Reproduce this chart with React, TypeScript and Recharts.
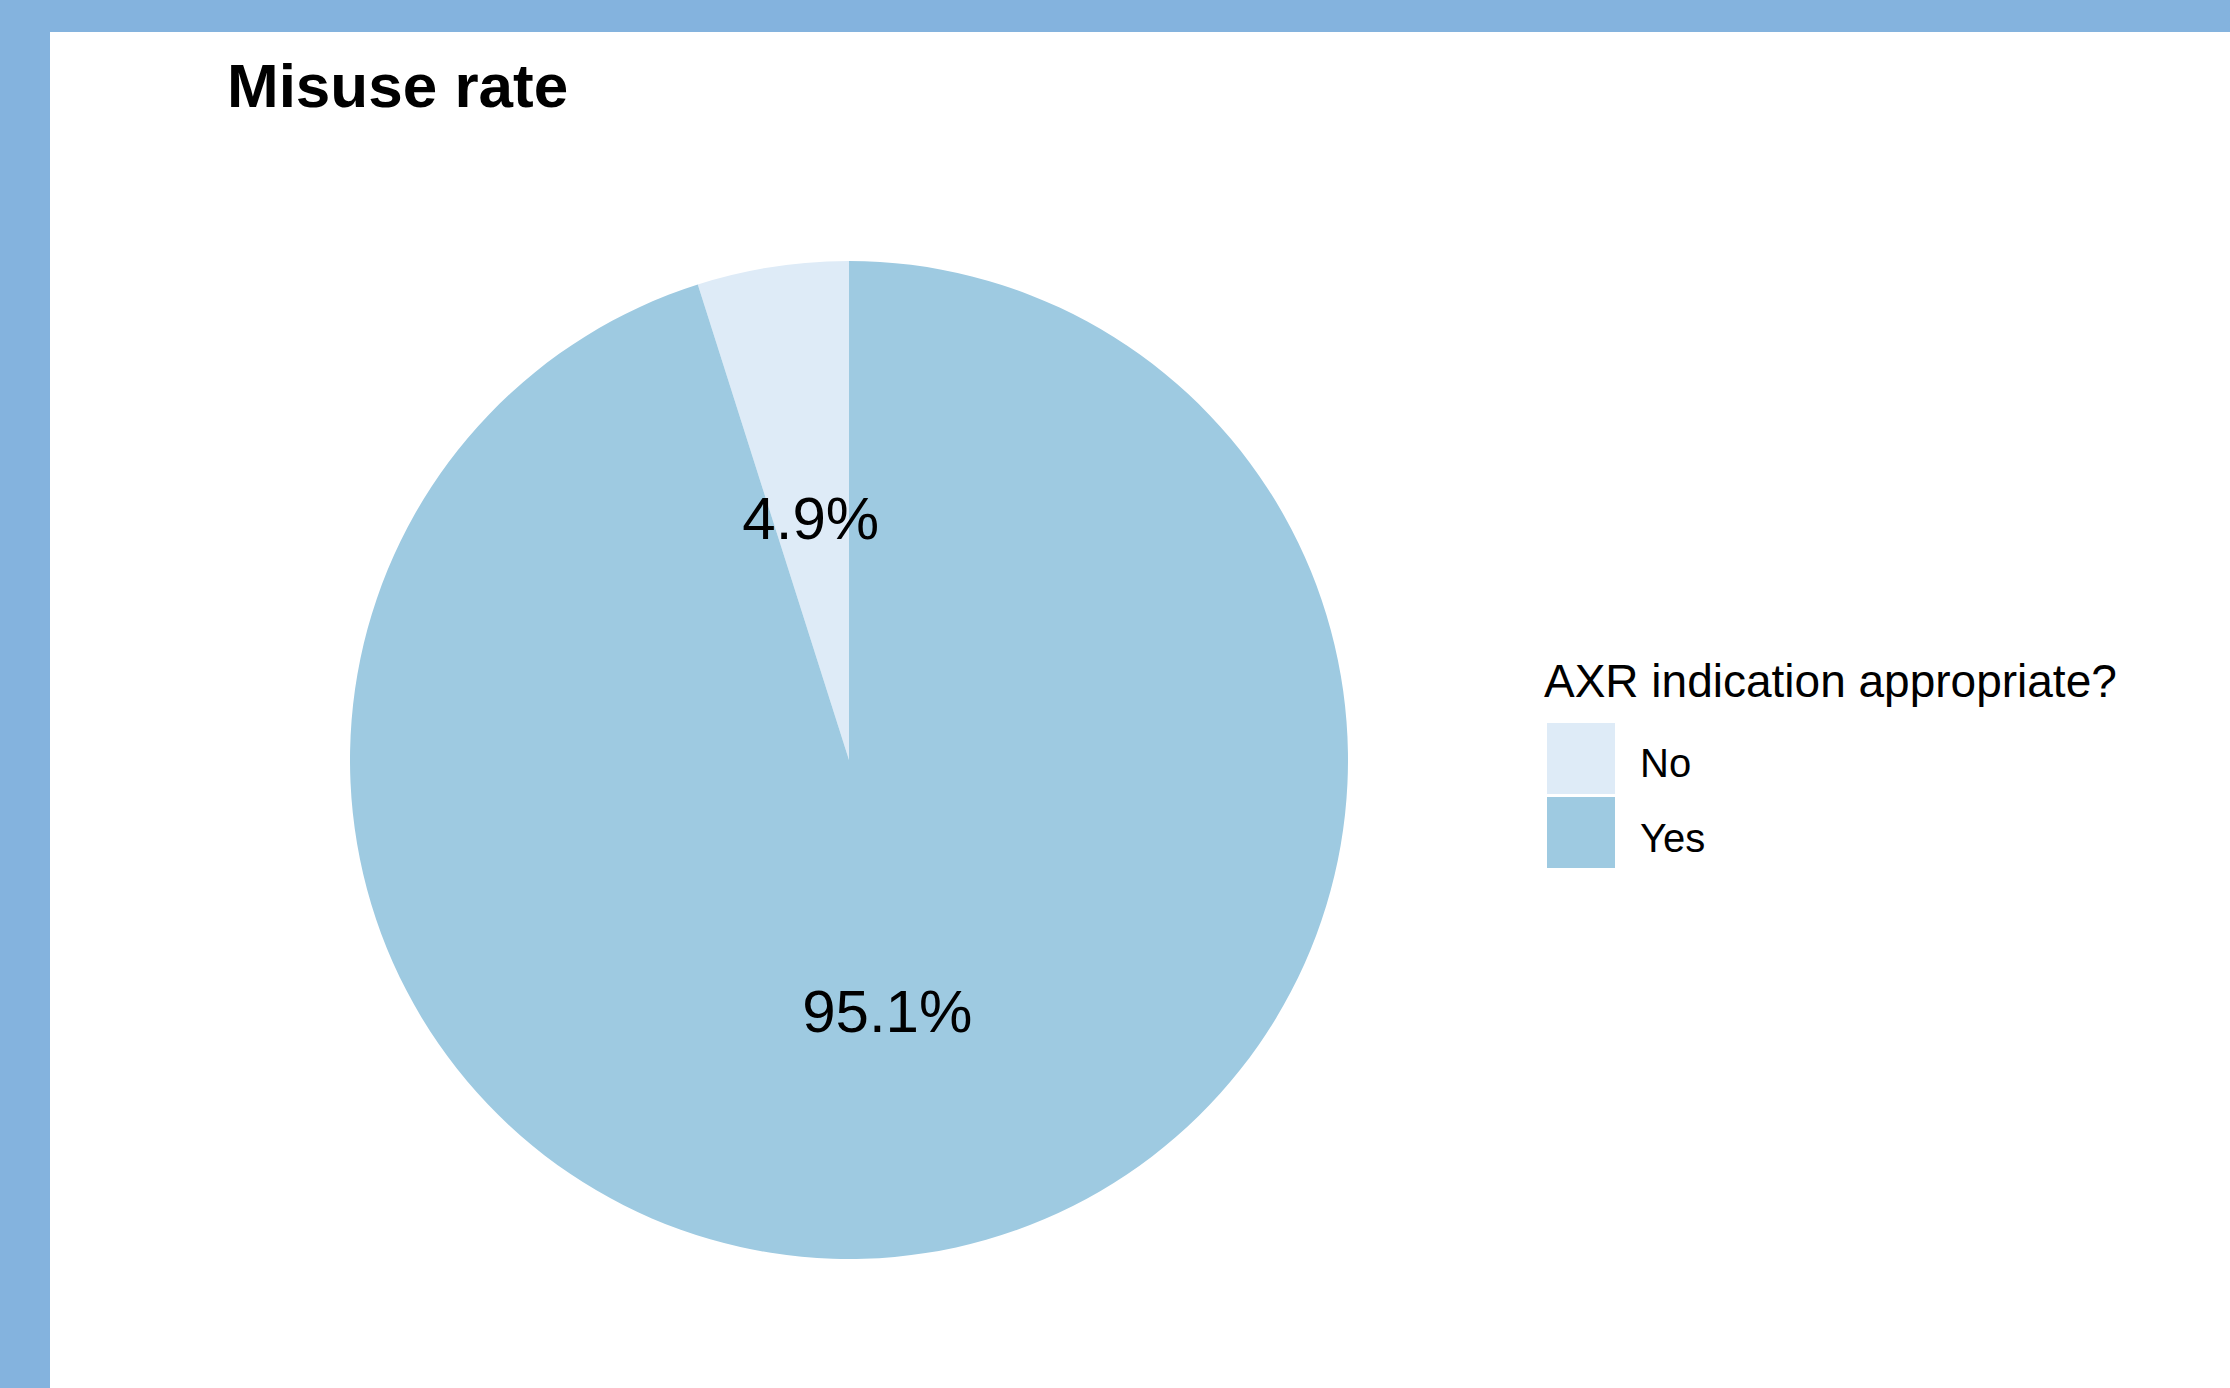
import { PieChart, Pie, Cell, Legend } from "recharts";

const categories = ["No", "Yes"];
const shares = [4.9, 95.1];
const COLORS = ["#deebf7", "#9ecae1"];

const data = categories.map((name, i) => ({ name, value: shares[i] }));

const FONT = '"Liberation Sans", Arial, sans-serif';
const RAD = Math.PI / 180;

const renderLabel = ({ cx, cy, midAngle, outerRadius, value }: any) => {
  const r = outerRadius * 0.5;
  const x = cx + r * Math.cos(-midAngle * RAD);
  const y = cy + r * Math.sin(-midAngle * RAD) + 5;
  return (
    <text x={x} y={y} textAnchor="middle" dominantBaseline="central" fontFamily={FONT} fontSize={60} fill="#000">
      {value.toFixed(1)}%
    </text>
  );
};

const LegendBox = ({ payload }: any) => (
  <svg width={620} height={240} style={{ display: "block" }}>
    <text x={4} y={57} fontFamily={FONT} fontSize={46} fill="#000">AXR indication appropriate?</text>
    {(payload ?? []).map((entry: any, i: number) => (
      <g key={i}>
        <rect x={7} y={83 + i * 74} width={68} height={71} fill={COLORS[i] ?? entry.color} />
        <text x={100} y={137 + i * 75} fontFamily={FONT} fontSize={40} fill="#000">{entry.value}</text>
      </g>
    ))}
  </svg>
);

export default function App() {
  return (
    <div style={{ position: "fixed", left: 0, top: 0, width: 2230, height: 1388, background: "#84b3de", overflow: "hidden" }}>
      <div style={{ position: "absolute", left: 50, top: 32, right: 0, bottom: 0, background: "#fff" }} />
      <div style={{ position: "absolute", left: 227, top: 55, fontFamily: FONT, fontWeight: "bold", fontSize: 62, lineHeight: 1, color: "#000", whiteSpace: "nowrap" }}>
        Misuse rate
      </div>
      <div style={{ position: "absolute", left: 0, top: 0 }}>
        <PieChart width={2230} height={1388} margin={{ top: 0, right: 0, bottom: 0, left: 0 }}>
          <Pie
            data={data}
            dataKey="value"
            nameKey="name"
            cx={849}
            cy={760}
            outerRadius={499}
            startAngle={90}
            endAngle={450}
            stroke="none"
            label={renderLabel}
            labelLine={false}
            isAnimationActive={false}
          >
            {data.map((_, i) => <Cell key={i} fill={COLORS[i]} />)}
          </Pie>
          <Legend content={<LegendBox />} wrapperStyle={{ left: 1540, top: 640, width: 620, height: 240 }} />
        </PieChart>
      </div>
    </div>
  );
}
